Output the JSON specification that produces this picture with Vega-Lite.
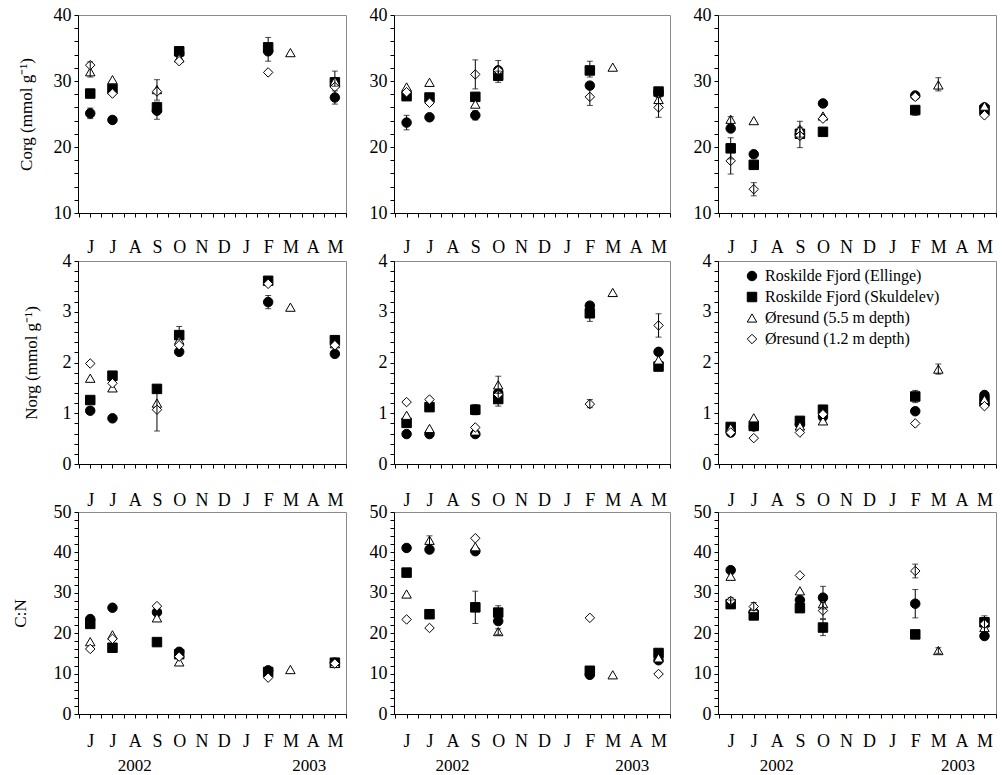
{
"$schema":"https://vega.github.io/schema/vega-lite/v6.json",
"padding":{"left":10,"top":5,"right":0,"bottom":0},
"autosize":{"type":"pad"},
"datasets":{"d":[
{"p":"Cl","s":"E","m":0,"v":25.1,"lo":24.3,"hi":25.9},{"p":"Cl","s":"E","m":1,"v":24.1},{"p":"Cl","s":"E","m":3,"v":25.5,"lo":24.2,"hi":26.8},{"p":"Cl","s":"E","m":4,"v":34.2},{"p":"Cl","s":"E","m":8,"v":34.5,"lo":33.0,"hi":35.5},{"p":"Cl","s":"E","m":11,"v":27.5,"lo":26.5,"hi":28.5},
{"p":"Cr","s":"E","m":0,"v":23.7,"lo":22.6,"hi":24.8},{"p":"Cr","s":"E","m":1,"v":24.5},{"p":"Cr","s":"E","m":3,"v":24.8,"lo":24.1,"hi":25.5},{"p":"Cr","s":"E","m":4,"v":31.6,"lo":30.1,"hi":33.1},{"p":"Cr","s":"E","m":8,"v":29.3},{"p":"Cr","s":"E","m":11,"v":28.3},
{"p":"Ct","s":"E","m":0,"v":22.8},{"p":"Ct","s":"E","m":1,"v":18.9},{"p":"Ct","s":"E","m":3,"v":21.9},{"p":"Ct","s":"E","m":4,"v":26.6,"lo":26.0,"hi":27.2},{"p":"Ct","s":"E","m":8,"v":27.8},{"p":"Ct","s":"E","m":11,"v":26.0},
{"p":"Nl","s":"E","m":0,"v":1.05},{"p":"Nl","s":"E","m":1,"v":0.9},{"p":"Nl","s":"E","m":4,"v":2.21},{"p":"Nl","s":"E","m":8,"v":3.19,"lo":3.06,"hi":3.32},{"p":"Nl","s":"E","m":11,"v":2.17},
{"p":"Nr","s":"E","m":0,"v":0.59},{"p":"Nr","s":"E","m":1,"v":0.59},{"p":"Nr","s":"E","m":3,"v":0.59},{"p":"Nr","s":"E","m":4,"v":1.4},{"p":"Nr","s":"E","m":8,"v":3.12},{"p":"Nr","s":"E","m":11,"v":2.21},
{"p":"Nt","s":"E","m":0,"v":0.62},{"p":"Nt","s":"E","m":1,"v":0.74},{"p":"Nt","s":"E","m":3,"v":0.78},{"p":"Nt","s":"E","m":4,"v":0.93},{"p":"Nt","s":"E","m":8,"v":1.04},{"p":"Nt","s":"E","m":11,"v":1.36},
{"p":"Rl","s":"E","m":0,"v":23.5},{"p":"Rl","s":"E","m":1,"v":26.3},{"p":"Rl","s":"E","m":3,"v":25.2},{"p":"Rl","s":"E","m":4,"v":15.4},{"p":"Rl","s":"E","m":8,"v":10.8},{"p":"Rl","s":"E","m":11,"v":12.7},
{"p":"Rr","s":"E","m":0,"v":41.1},{"p":"Rr","s":"E","m":1,"v":40.7},{"p":"Rr","s":"E","m":3,"v":40.3},{"p":"Rr","s":"E","m":4,"v":23.0},{"p":"Rr","s":"E","m":8,"v":9.7},{"p":"Rr","s":"E","m":11,"v":13.3},
{"p":"Rt","s":"E","m":0,"v":35.6},{"p":"Rt","s":"E","m":1,"v":25.2},{"p":"Rt","s":"E","m":3,"v":28.2},{"p":"Rt","s":"E","m":4,"v":28.8,"lo":26.0,"hi":31.6},{"p":"Rt","s":"E","m":8,"v":27.3,"lo":23.8,"hi":30.8},{"p":"Rt","s":"E","m":11,"v":19.3},
{"p":"Cl","s":"S","m":0,"v":28.1},{"p":"Cl","s":"S","m":1,"v":28.8},{"p":"Cl","s":"S","m":3,"v":26.0},{"p":"Cl","s":"S","m":4,"v":34.5,"lo":33.9,"hi":34.9},{"p":"Cl","s":"S","m":8,"v":35.1,"lo":34.3,"hi":36.6},{"p":"Cl","s":"S","m":11,"v":29.8},
{"p":"Cr","s":"S","m":0,"v":27.7},{"p":"Cr","s":"S","m":1,"v":27.5},{"p":"Cr","s":"S","m":3,"v":27.6},{"p":"Cr","s":"S","m":4,"v":30.8,"lo":29.8,"hi":31.5},{"p":"Cr","s":"S","m":8,"v":31.6,"lo":30.6,"hi":33.0},{"p":"Cr","s":"S","m":11,"v":28.4},
{"p":"Ct","s":"S","m":0,"v":19.8,"lo":18.2,"hi":21.4},{"p":"Ct","s":"S","m":1,"v":17.3},{"p":"Ct","s":"S","m":3,"v":22.0},{"p":"Ct","s":"S","m":4,"v":22.3},{"p":"Ct","s":"S","m":8,"v":25.6,"lo":24.8,"hi":26.0},{"p":"Ct","s":"S","m":11,"v":25.6},
{"p":"Nl","s":"S","m":0,"v":1.26},{"p":"Nl","s":"S","m":1,"v":1.74},{"p":"Nl","s":"S","m":3,"v":1.48},{"p":"Nl","s":"S","m":4,"v":2.54,"lo":2.45,"hi":2.71},{"p":"Nl","s":"S","m":8,"v":3.61},{"p":"Nl","s":"S","m":11,"v":2.44},
{"p":"Nr","s":"S","m":0,"v":0.81},{"p":"Nr","s":"S","m":1,"v":1.12},{"p":"Nr","s":"S","m":3,"v":1.07,"lo":0.97,"hi":1.17},{"p":"Nr","s":"S","m":4,"v":1.28,"lo":1.14,"hi":1.42},{"p":"Nr","s":"S","m":8,"v":2.97,"lo":2.81,"hi":3.13},{"p":"Nr","s":"S","m":11,"v":1.92},
{"p":"Nt","s":"S","m":0,"v":0.73},{"p":"Nt","s":"S","m":1,"v":0.75},{"p":"Nt","s":"S","m":3,"v":0.85},{"p":"Nt","s":"S","m":4,"v":1.07},{"p":"Nt","s":"S","m":8,"v":1.33,"lo":1.21,"hi":1.45},{"p":"Nt","s":"S","m":11,"v":1.24},
{"p":"Rl","s":"S","m":0,"v":22.3},{"p":"Rl","s":"S","m":1,"v":16.4},{"p":"Rl","s":"S","m":3,"v":17.8},{"p":"Rl","s":"S","m":4,"v":14.8},{"p":"Rl","s":"S","m":8,"v":10.4},{"p":"Rl","s":"S","m":11,"v":12.7},
{"p":"Rr","s":"S","m":0,"v":35.0},{"p":"Rr","s":"S","m":1,"v":24.7},{"p":"Rr","s":"S","m":3,"v":26.4,"lo":22.4,"hi":30.4},{"p":"Rr","s":"S","m":4,"v":25.1,"lo":23.4,"hi":26.8},{"p":"Rr","s":"S","m":8,"v":10.7},{"p":"Rr","s":"S","m":11,"v":15.1},
{"p":"Rt","s":"S","m":0,"v":27.2,"lo":26.2,"hi":28.2},{"p":"Rt","s":"S","m":1,"v":24.4},{"p":"Rt","s":"S","m":3,"v":26.2},{"p":"Rt","s":"S","m":4,"v":21.4,"lo":19.4,"hi":23.4},{"p":"Rt","s":"S","m":8,"v":19.7,"lo":18.7,"hi":20.7},{"p":"Rt","s":"S","m":11,"v":22.7},
{"p":"Cl","s":"T","m":0,"v":31.4,"lo":30.6,"hi":32.9},{"p":"Cl","s":"T","m":1,"v":30.2},{"p":"Cl","s":"T","m":3,"v":28.7},{"p":"Cl","s":"T","m":4,"v":33.5},{"p":"Cl","s":"T","m":9,"v":34.3},{"p":"Cl","s":"T","m":11,"v":30.0,"lo":29.2,"hi":31.5},
{"p":"Cr","s":"T","m":0,"v":29.1},{"p":"Cr","s":"T","m":1,"v":29.8},{"p":"Cr","s":"T","m":3,"v":26.5},{"p":"Cr","s":"T","m":4,"v":31.8},{"p":"Cr","s":"T","m":9,"v":32.1},{"p":"Cr","s":"T","m":11,"v":27.2},
{"p":"Ct","s":"T","m":0,"v":24.2,"lo":23.4,"hi":24.6},{"p":"Ct","s":"T","m":1,"v":24.0},{"p":"Ct","s":"T","m":3,"v":22.7,"lo":21.5,"hi":23.9},{"p":"Ct","s":"T","m":4,"v":24.7},{"p":"Ct","s":"T","m":9,"v":29.4,"lo":28.5,"hi":30.5},{"p":"Ct","s":"T","m":11,"v":26.2},
{"p":"Nl","s":"T","m":0,"v":1.69},{"p":"Nl","s":"T","m":1,"v":1.5},{"p":"Nl","s":"T","m":3,"v":1.2},{"p":"Nl","s":"T","m":4,"v":2.44},{"p":"Nl","s":"T","m":9,"v":3.09},{"p":"Nl","s":"T","m":11,"v":2.37},
{"p":"Nr","s":"T","m":0,"v":0.96},{"p":"Nr","s":"T","m":1,"v":0.7},{"p":"Nr","s":"T","m":3,"v":0.65},{"p":"Nr","s":"T","m":4,"v":1.56,"lo":1.39,"hi":1.73},{"p":"Nr","s":"T","m":9,"v":3.38},{"p":"Nr","s":"T","m":11,"v":2.05},
{"p":"Nt","s":"T","m":0,"v":0.71},{"p":"Nt","s":"T","m":1,"v":0.91},{"p":"Nt","s":"T","m":3,"v":0.75},{"p":"Nt","s":"T","m":4,"v":0.85},{"p":"Nt","s":"T","m":9,"v":1.87,"lo":1.77,"hi":1.97},{"p":"Nt","s":"T","m":11,"v":1.27},
{"p":"Rl","s":"T","m":0,"v":17.9},{"p":"Rl","s":"T","m":1,"v":19.6},{"p":"Rl","s":"T","m":3,"v":23.8},{"p":"Rl","s":"T","m":4,"v":12.9},{"p":"Rl","s":"T","m":9,"v":11.0},{"p":"Rl","s":"T","m":11,"v":12.5},
{"p":"Rr","s":"T","m":0,"v":29.7},{"p":"Rr","s":"T","m":1,"v":43.0,"lo":41.9,"hi":44.1},{"p":"Rr","s":"T","m":3,"v":41.4},{"p":"Rr","s":"T","m":4,"v":20.4,"lo":19.7,"hi":21.1},{"p":"Rr","s":"T","m":9,"v":9.7},{"p":"Rr","s":"T","m":11,"v":13.9},
{"p":"Rt","s":"T","m":0,"v":34.1},{"p":"Rt","s":"T","m":1,"v":26.1},{"p":"Rt","s":"T","m":3,"v":30.5},{"p":"Rt","s":"T","m":4,"v":27.3},{"p":"Rt","s":"T","m":9,"v":15.7,"lo":15.0,"hi":16.4},{"p":"Rt","s":"T","m":11,"v":21.4},
{"p":"Cl","s":"D","m":0,"v":32.4},{"p":"Cl","s":"D","m":1,"v":28.1},{"p":"Cl","s":"D","m":3,"v":28.4,"lo":27.1,"hi":30.2},{"p":"Cl","s":"D","m":4,"v":33.0},{"p":"Cl","s":"D","m":8,"v":31.3},{"p":"Cl","s":"D","m":11,"v":29.1},
{"p":"Cr","s":"D","m":0,"v":28.3},{"p":"Cr","s":"D","m":1,"v":26.7},{"p":"Cr","s":"D","m":3,"v":31.0,"lo":28.8,"hi":33.2},{"p":"Cr","s":"D","m":4,"v":31.6},{"p":"Cr","s":"D","m":8,"v":27.6,"lo":26.3,"hi":28.9},{"p":"Cr","s":"D","m":11,"v":26.0,"lo":24.5,"hi":27.5},
{"p":"Ct","s":"D","m":0,"v":17.9,"lo":15.9,"hi":19.9},{"p":"Ct","s":"D","m":1,"v":13.6,"lo":12.6,"hi":14.6},{"p":"Ct","s":"D","m":3,"v":21.7,"lo":19.9,"hi":23.0},{"p":"Ct","s":"D","m":4,"v":24.3},{"p":"Ct","s":"D","m":8,"v":27.6},{"p":"Ct","s":"D","m":11,"v":24.8},
{"p":"Nl","s":"D","m":0,"v":1.98},{"p":"Nl","s":"D","m":1,"v":1.59},{"p":"Nl","s":"D","m":3,"v":1.07,"lo":0.65,"hi":1.4},{"p":"Nl","s":"D","m":4,"v":2.34},{"p":"Nl","s":"D","m":8,"v":3.55},{"p":"Nl","s":"D","m":11,"v":2.34},
{"p":"Nr","s":"D","m":0,"v":1.22},{"p":"Nr","s":"D","m":1,"v":1.27},{"p":"Nr","s":"D","m":3,"v":0.72},{"p":"Nr","s":"D","m":4,"v":1.37},{"p":"Nr","s":"D","m":8,"v":1.18,"lo":1.11,"hi":1.27},{"p":"Nr","s":"D","m":11,"v":2.73,"lo":2.5,"hi":2.96},
{"p":"Nt","s":"D","m":0,"v":0.62},{"p":"Nt","s":"D","m":1,"v":0.51},{"p":"Nt","s":"D","m":3,"v":0.62},{"p":"Nt","s":"D","m":4,"v":0.98},{"p":"Nt","s":"D","m":8,"v":0.8},{"p":"Nt","s":"D","m":11,"v":1.14},
{"p":"Rl","s":"D","m":0,"v":16.1},{"p":"Rl","s":"D","m":1,"v":18.6},{"p":"Rl","s":"D","m":3,"v":26.7},{"p":"Rl","s":"D","m":4,"v":14.2},{"p":"Rl","s":"D","m":8,"v":9.0},{"p":"Rl","s":"D","m":11,"v":12.5},
{"p":"Rr","s":"D","m":0,"v":23.4},{"p":"Rr","s":"D","m":1,"v":21.3},{"p":"Rr","s":"D","m":3,"v":43.5},{"p":"Rr","s":"D","m":8,"v":23.8},{"p":"Rr","s":"D","m":11,"v":9.9},
{"p":"Rt","s":"D","m":0,"v":28.0,"lo":27.2,"hi":28.8},{"p":"Rt","s":"D","m":1,"v":26.6,"lo":25.6,"hi":27.6},{"p":"Rt","s":"D","m":3,"v":34.3},{"p":"Rt","s":"D","m":4,"v":25.6,"lo":23.6,"hi":27.6},{"p":"Rt","s":"D","m":8,"v":35.4,"lo":33.7,"hi":37.1},{"p":"Rt","s":"D","m":11,"v":22.3,"lo":20.3,"hi":24.3}
]},
"columns":3,
"bounds":"flush",
"spacing":{"row":48,"column":48},
"resolve":{"scale":{"shape":"independent","fill":"independent","stroke":"independent"},"legend":{"shape":"independent","fill":"independent","stroke":"independent"}},
"concat":[
{"width":268,"height":198,"resolve":{"axis":{"y":"independent"}},
 "encoding":{"x":{"field":"m","type":"quantitative","scale":{"domain":[-0.55,11.5],"nice":false,"zero":false},"axis":{"values":[-0.5,0,0.5,1,1.5,2,2.5,3,3.5,4,4.5,5,5.5,6,6.5,7,7.5,8,8.5,9,9.5,10,10.5,11,11.5],"labelExpr":"datum.value % 1 === 0 ? ['J','J','A','S','O','N','D','J','F','M','A','M'][datum.value] : ''","labelPadding":21,"labelOverlap":false,"labelFlush":false,"title":null}}},
 "layer":[
  {"data":{"name":"d"},"transform":[{"filter":"datum.p==='Cl'"}],"mark":{"type":"point","size":90,"stroke":"black","strokeWidth":1,"opacity":1},
   "encoding":{"y":{"field":"v","type":"quantitative","scale":{"domain":[10,40],"nice":false,"zero":false},"axis":{"values":[10,12,14,16,18,20,22,24,26,28,30,32,34,36,38,40],"labelExpr":"datum.value % 10 === 0 ? datum.label : ''","labelOverlap":false,"title":"Corg (mmol g⁻¹)","titlePadding":18}},
    "shape":{"field":"s","type":"nominal","scale":{"domain":["E","S","T","D"],"range":["circle","square","triangle-up","diamond"]},"legend":null},
    "fill":{"field":"s","type":"nominal","scale":{"domain":["E","S","T","D"],"range":["black","black","white","white"]},"legend":null}}},
  {"data":{"name":"d"},"transform":[{"filter":"datum.p==='Cl' && isValid(datum.lo)"}],"mark":{"type":"rule","color":"black","strokeWidth":1},"encoding":{"y":{"field":"lo","type":"quantitative","axis":null},"y2":{"field":"hi"}}},
  {"data":{"name":"d"},"transform":[{"filter":"datum.p==='Cl' && isValid(datum.lo)"},{"fold":["lo","hi"],"as":["k","e"]}],"mark":{"type":"tick","orient":"horizontal","size":6,"thickness":1,"color":"black"},"encoding":{"y":{"field":"e","type":"quantitative","axis":null}}},
  {"data":{"values":[{"t":"leaf"}]},"mark":{"type":"text","align":"right","baseline":"alphabetic","dx":-8,"dy":-12,"fontSize":20},"encoding":{"x":{"datum":11.5},"y":{"datum":10,"axis":null},"text":{"field":"t"}}}
 ]},
{"width":276,"height":198,"resolve":{"axis":{"y":"independent"}},
 "encoding":{"x":{"field":"m","type":"quantitative","scale":{"domain":[-0.55,11.5],"nice":false,"zero":false},"axis":{"values":[-0.5,0,0.5,1,1.5,2,2.5,3,3.5,4,4.5,5,5.5,6,6.5,7,7.5,8,8.5,9,9.5,10,10.5,11,11.5],"labelExpr":"datum.value % 1 === 0 ? ['J','J','A','S','O','N','D','J','F','M','A','M'][datum.value] : ''","labelPadding":21,"labelOverlap":false,"labelFlush":false,"title":null}}},
 "layer":[
  {"data":{"name":"d"},"transform":[{"filter":"datum.p==='Cr'"}],"mark":{"type":"point","size":90,"stroke":"black","strokeWidth":1,"opacity":1},
   "encoding":{"y":{"field":"v","type":"quantitative","scale":{"domain":[10,40],"nice":false,"zero":false},"axis":{"values":[10,12,14,16,18,20,22,24,26,28,30,32,34,36,38,40],"labelExpr":"datum.value % 10 === 0 ? datum.label : ''","labelOverlap":false,"title":null}},
    "shape":{"field":"s","type":"nominal","scale":{"domain":["E","S","T","D"],"range":["circle","square","triangle-up","diamond"]},"legend":null},
    "fill":{"field":"s","type":"nominal","scale":{"domain":["E","S","T","D"],"range":["black","black","white","white"]},"legend":null}}},
  {"data":{"name":"d"},"transform":[{"filter":"datum.p==='Cr' && isValid(datum.lo)"}],"mark":{"type":"rule","color":"black","strokeWidth":1},"encoding":{"y":{"field":"lo","type":"quantitative","axis":null},"y2":{"field":"hi"}}},
  {"data":{"name":"d"},"transform":[{"filter":"datum.p==='Cr' && isValid(datum.lo)"},{"fold":["lo","hi"],"as":["k","e"]}],"mark":{"type":"tick","orient":"horizontal","size":6,"thickness":1,"color":"black"},"encoding":{"y":{"field":"e","type":"quantitative","axis":null}}},
  {"data":{"values":[{"t":"rhizome"}]},"mark":{"type":"text","align":"right","baseline":"alphabetic","dx":-7,"dy":-12,"fontSize":20},"encoding":{"x":{"datum":11.5},"y":{"datum":10,"axis":null},"text":{"field":"t"}}}
 ]},
{"width":278,"height":198,"resolve":{"axis":{"y":"independent"}},
 "encoding":{"x":{"field":"m","type":"quantitative","scale":{"domain":[-0.55,11.5],"nice":false,"zero":false},"axis":{"values":[-0.5,0,0.5,1,1.5,2,2.5,3,3.5,4,4.5,5,5.5,6,6.5,7,7.5,8,8.5,9,9.5,10,10.5,11,11.5],"labelExpr":"datum.value % 1 === 0 ? ['J','J','A','S','O','N','D','J','F','M','A','M'][datum.value] : ''","labelPadding":21,"labelOverlap":false,"labelFlush":false,"title":null}}},
 "layer":[
  {"data":{"name":"d"},"transform":[{"filter":"datum.p==='Ct'"}],"mark":{"type":"point","size":90,"stroke":"black","strokeWidth":1,"opacity":1},
   "encoding":{"y":{"field":"v","type":"quantitative","scale":{"domain":[10,40],"nice":false,"zero":false},"axis":{"values":[10,12,14,16,18,20,22,24,26,28,30,32,34,36,38,40],"labelExpr":"datum.value % 10 === 0 ? datum.label : ''","labelOverlap":false,"title":null}},
    "shape":{"field":"s","type":"nominal","scale":{"domain":["E","S","T","D"],"range":["circle","square","triangle-up","diamond"]},"legend":null},
    "fill":{"field":"s","type":"nominal","scale":{"domain":["E","S","T","D"],"range":["black","black","white","white"]},"legend":null}}},
  {"data":{"name":"d"},"transform":[{"filter":"datum.p==='Ct' && isValid(datum.lo)"}],"mark":{"type":"rule","color":"black","strokeWidth":1},"encoding":{"y":{"field":"lo","type":"quantitative","axis":null},"y2":{"field":"hi"}}},
  {"data":{"name":"d"},"transform":[{"filter":"datum.p==='Ct' && isValid(datum.lo)"},{"fold":["lo","hi"],"as":["k","e"]}],"mark":{"type":"tick","orient":"horizontal","size":6,"thickness":1,"color":"black"},"encoding":{"y":{"field":"e","type":"quantitative","axis":null}}},
  {"data":{"values":[{"t":"root"}]},"mark":{"type":"text","align":"right","baseline":"alphabetic","dx":-8,"dy":-13,"fontSize":20},"encoding":{"x":{"datum":11.5},"y":{"datum":10,"axis":null},"text":{"field":"t"}}}
 ]},
{"width":268,"height":203,"resolve":{"axis":{"y":"independent"}},
 "encoding":{"x":{"field":"m","type":"quantitative","scale":{"domain":[-0.55,11.5],"nice":false,"zero":false},"axis":{"values":[-0.5,0,0.5,1,1.5,2,2.5,3,3.5,4,4.5,5,5.5,6,6.5,7,7.5,8,8.5,9,9.5,10,10.5,11,11.5],"labelExpr":"datum.value % 1 === 0 ? ['J','J','A','S','O','N','D','J','F','M','A','M'][datum.value] : ''","labelPadding":23,"labelOverlap":false,"labelFlush":false,"title":null}}},
 "layer":[
  {"data":{"name":"d"},"transform":[{"filter":"datum.p==='Nl'"}],"mark":{"type":"point","size":90,"stroke":"black","strokeWidth":1,"opacity":1},
   "encoding":{"y":{"field":"v","type":"quantitative","scale":{"domain":[0,4],"nice":false,"zero":false},"axis":{"values":[0,0.2,0.4,0.6,0.8,1,1.2,1.4,1.6,1.8,2,2.2,2.4,2.6,2.8,3,3.2,3.4,3.6,3.8,4],"labelExpr":"datum.value % 1 === 0 ? format(datum.value, 'd') : ''","labelOverlap":false,"title":"Norg (mmol g⁻¹)","titlePadding":22}},
    "shape":{"field":"s","type":"nominal","scale":{"domain":["E","S","T","D"],"range":["circle","square","triangle-up","diamond"]},"legend":null},
    "fill":{"field":"s","type":"nominal","scale":{"domain":["E","S","T","D"],"range":["black","black","white","white"]},"legend":null}}},
  {"data":{"name":"d"},"transform":[{"filter":"datum.p==='Nl' && isValid(datum.lo)"}],"mark":{"type":"rule","color":"black","strokeWidth":1},"encoding":{"y":{"field":"lo","type":"quantitative","axis":null},"y2":{"field":"hi"}}},
  {"data":{"name":"d"},"transform":[{"filter":"datum.p==='Nl' && isValid(datum.lo)"},{"fold":["lo","hi"],"as":["k","e"]}],"mark":{"type":"tick","orient":"horizontal","size":6,"thickness":1,"color":"black"},"encoding":{"y":{"field":"e","type":"quantitative","axis":null}}},
  {"data":{"values":[{"t":"leaf"}]},"mark":{"type":"text","align":"right","baseline":"alphabetic","dx":-6,"dy":-13,"fontSize":20},"encoding":{"x":{"datum":11.5},"y":{"datum":0,"axis":null},"text":{"field":"t"}}}
 ]},
{"width":276,"height":203,"resolve":{"axis":{"y":"independent"}},
 "encoding":{"x":{"field":"m","type":"quantitative","scale":{"domain":[-0.55,11.5],"nice":false,"zero":false},"axis":{"values":[-0.5,0,0.5,1,1.5,2,2.5,3,3.5,4,4.5,5,5.5,6,6.5,7,7.5,8,8.5,9,9.5,10,10.5,11,11.5],"labelExpr":"datum.value % 1 === 0 ? ['J','J','A','S','O','N','D','J','F','M','A','M'][datum.value] : ''","labelPadding":23,"labelOverlap":false,"labelFlush":false,"title":null}}},
 "layer":[
  {"data":{"name":"d"},"transform":[{"filter":"datum.p==='Nr'"}],"mark":{"type":"point","size":90,"stroke":"black","strokeWidth":1,"opacity":1},
   "encoding":{"y":{"field":"v","type":"quantitative","scale":{"domain":[0,4],"nice":false,"zero":false},"axis":{"values":[0,0.2,0.4,0.6,0.8,1,1.2,1.4,1.6,1.8,2,2.2,2.4,2.6,2.8,3,3.2,3.4,3.6,3.8,4],"labelExpr":"datum.value % 1 === 0 ? format(datum.value, 'd') : ''","labelOverlap":false,"title":null}},
    "shape":{"field":"s","type":"nominal","scale":{"domain":["E","S","T","D"],"range":["circle","square","triangle-up","diamond"]},"legend":null},
    "fill":{"field":"s","type":"nominal","scale":{"domain":["E","S","T","D"],"range":["black","black","white","white"]},"legend":null}}},
  {"data":{"name":"d"},"transform":[{"filter":"datum.p==='Nr' && isValid(datum.lo)"}],"mark":{"type":"rule","color":"black","strokeWidth":1},"encoding":{"y":{"field":"lo","type":"quantitative","axis":null},"y2":{"field":"hi"}}},
  {"data":{"name":"d"},"transform":[{"filter":"datum.p==='Nr' && isValid(datum.lo)"},{"fold":["lo","hi"],"as":["k","e"]}],"mark":{"type":"tick","orient":"horizontal","size":6,"thickness":1,"color":"black"},"encoding":{"y":{"field":"e","type":"quantitative","axis":null}}},
  {"data":{"values":[{"t":"rhizome"}]},"mark":{"type":"text","align":"right","baseline":"alphabetic","dx":-7,"dy":-13,"fontSize":20},"encoding":{"x":{"datum":11.5},"y":{"datum":0,"axis":null},"text":{"field":"t"}}}
 ]},
{"width":278,"height":203,"resolve":{"axis":{"y":"independent"}},
 "encoding":{"x":{"field":"m","type":"quantitative","scale":{"domain":[-0.55,11.5],"nice":false,"zero":false},"axis":{"values":[-0.5,0,0.5,1,1.5,2,2.5,3,3.5,4,4.5,5,5.5,6,6.5,7,7.5,8,8.5,9,9.5,10,10.5,11,11.5],"labelExpr":"datum.value % 1 === 0 ? ['J','J','A','S','O','N','D','J','F','M','A','M'][datum.value] : ''","labelPadding":23,"labelOverlap":false,"labelFlush":false,"title":null}}},
 "layer":[
  {"data":{"name":"d"},"transform":[{"filter":"datum.p==='Nt'"}],"mark":{"type":"point","size":90,"strokeWidth":1,"opacity":1},
   "encoding":{"y":{"field":"v","type":"quantitative","scale":{"domain":[0,4],"nice":false,"zero":false},"axis":{"values":[0,0.2,0.4,0.6,0.8,1,1.2,1.4,1.6,1.8,2,2.2,2.4,2.6,2.8,3,3.2,3.4,3.6,3.8,4],"labelExpr":"datum.value % 1 === 0 ? format(datum.value, 'd') : ''","labelOverlap":false,"title":null}},
    "shape":{"field":"s","type":"nominal","scale":{"domain":["E","S","T","D"],"range":["circle","square","triangle-up","diamond"]},"legend":{"title":null,"orient":"none","legendX":26,"legendY":7,"padding":0,"rowPadding":5,"labelOffset":5,"labelLimit":400,"labelExpr":"{'E':'Roskilde Fjord (Ellinge)','S':'Roskilde Fjord (Skuldelev)','T':'Øresund (5.5 m depth)','D':'Øresund (1.2 m depth)'}[datum.label]"}},
    "fill":{"field":"s","type":"nominal","scale":{"domain":["E","S","T","D"],"range":["black","black","white","white"]},"legend":{"title":null,"orient":"none","legendX":26,"legendY":7,"padding":0,"rowPadding":5,"labelOffset":5,"labelLimit":400,"labelExpr":"{'E':'Roskilde Fjord (Ellinge)','S':'Roskilde Fjord (Skuldelev)','T':'Øresund (5.5 m depth)','D':'Øresund (1.2 m depth)'}[datum.label]"}},
    "stroke":{"field":"s","type":"nominal","scale":{"domain":["E","S","T","D"],"range":["black","black","black","black"]},"legend":{"title":null,"orient":"none","legendX":26,"legendY":7,"padding":0,"rowPadding":5,"labelOffset":5,"labelLimit":400,"labelExpr":"{'E':'Roskilde Fjord (Ellinge)','S':'Roskilde Fjord (Skuldelev)','T':'Øresund (5.5 m depth)','D':'Øresund (1.2 m depth)'}[datum.label]"}}}},
  {"data":{"name":"d"},"transform":[{"filter":"datum.p==='Nt' && isValid(datum.lo)"}],"mark":{"type":"rule","color":"black","strokeWidth":1},"encoding":{"y":{"field":"lo","type":"quantitative","axis":null},"y2":{"field":"hi"}}},
  {"data":{"name":"d"},"transform":[{"filter":"datum.p==='Nt' && isValid(datum.lo)"},{"fold":["lo","hi"],"as":["k","e"]}],"mark":{"type":"tick","orient":"horizontal","size":6,"thickness":1,"color":"black"},"encoding":{"y":{"field":"e","type":"quantitative","axis":null}}},
  {"data":{"values":[{"t":"root"}]},"mark":{"type":"text","align":"right","baseline":"alphabetic","dx":-8,"dy":-13,"fontSize":20},"encoding":{"x":{"datum":11.5},"y":{"datum":0,"axis":null},"text":{"field":"t"}}}
 ]},
{"width":268,"height":202,"resolve":{"axis":{"y":"independent"}},
 "encoding":{"x":{"field":"m","type":"quantitative","scale":{"domain":[-0.55,11.5],"nice":false,"zero":false},"axis":{"values":[-0.5,0,0.5,1,1.5,2,2.5,3,3.5,4,4.5,5,5.5,6,6.5,7,7.5,8,8.5,9,9.5,10,10.5,11,11.5],"labelExpr":"datum.value % 1 === 0 ? ['J','J','A','S','O','N','D','J','F','M','A','M'][datum.value] : ''","labelPadding":14,"labelOverlap":false,"labelFlush":false,"title":null}}},
 "layer":[
  {"data":{"name":"d"},"transform":[{"filter":"datum.p==='Rl'"}],"mark":{"type":"point","size":90,"stroke":"black","strokeWidth":1,"opacity":1},
   "encoding":{"y":{"field":"v","type":"quantitative","scale":{"domain":[0,50],"nice":false,"zero":false},"axis":{"values":[0,2,4,6,8,10,12,14,16,18,20,22,24,26,28,30,32,34,36,38,40,42,44,46,48,50],"labelExpr":"datum.value % 10 === 0 ? datum.label : ''","labelOverlap":false,"title":"C:N","titlePadding":24}},
    "shape":{"field":"s","type":"nominal","scale":{"domain":["E","S","T","D"],"range":["circle","square","triangle-up","diamond"]},"legend":null},
    "fill":{"field":"s","type":"nominal","scale":{"domain":["E","S","T","D"],"range":["black","black","white","white"]},"legend":null}}},
  {"data":{"name":"d"},"transform":[{"filter":"datum.p==='Rl' && isValid(datum.lo)"}],"mark":{"type":"rule","color":"black","strokeWidth":1},"encoding":{"y":{"field":"lo","type":"quantitative","axis":null},"y2":{"field":"hi"}}},
  {"data":{"name":"d"},"transform":[{"filter":"datum.p==='Rl' && isValid(datum.lo)"},{"fold":["lo","hi"],"as":["k","e"]}],"mark":{"type":"tick","orient":"horizontal","size":6,"thickness":1,"color":"black"},"encoding":{"y":{"field":"e","type":"quantitative","axis":null}}},
  {"data":{"values":[{"t":"leaf"}]},"mark":{"type":"text","align":"right","baseline":"alphabetic","dx":-6,"dy":-13,"fontSize":20},"encoding":{"x":{"datum":11.5},"y":{"datum":0,"axis":null},"text":{"field":"t"}}},
  {"data":{"values":[{"yr":"2002","m":2.0},{"yr":"2003","m":9.85}]},"mark":{"type":"text","baseline":"middle","dy":52,"fontSize":17},"encoding":{"y":{"datum":0,"axis":null},"text":{"field":"yr"}}}
 ]},
{"width":276,"height":202,"resolve":{"axis":{"y":"independent"}},
 "encoding":{"x":{"field":"m","type":"quantitative","scale":{"domain":[-0.55,11.5],"nice":false,"zero":false},"axis":{"values":[-0.5,0,0.5,1,1.5,2,2.5,3,3.5,4,4.5,5,5.5,6,6.5,7,7.5,8,8.5,9,9.5,10,10.5,11,11.5],"labelExpr":"datum.value % 1 === 0 ? ['J','J','A','S','O','N','D','J','F','M','A','M'][datum.value] : ''","labelPadding":14,"labelOverlap":false,"labelFlush":false,"title":null}}},
 "layer":[
  {"data":{"name":"d"},"transform":[{"filter":"datum.p==='Rr'"}],"mark":{"type":"point","size":90,"stroke":"black","strokeWidth":1,"opacity":1},
   "encoding":{"y":{"field":"v","type":"quantitative","scale":{"domain":[0,50],"nice":false,"zero":false},"axis":{"values":[0,2,4,6,8,10,12,14,16,18,20,22,24,26,28,30,32,34,36,38,40,42,44,46,48,50],"labelExpr":"datum.value % 10 === 0 ? datum.label : ''","labelOverlap":false,"title":null}},
    "shape":{"field":"s","type":"nominal","scale":{"domain":["E","S","T","D"],"range":["circle","square","triangle-up","diamond"]},"legend":null},
    "fill":{"field":"s","type":"nominal","scale":{"domain":["E","S","T","D"],"range":["black","black","white","white"]},"legend":null}}},
  {"data":{"name":"d"},"transform":[{"filter":"datum.p==='Rr' && isValid(datum.lo)"}],"mark":{"type":"rule","color":"black","strokeWidth":1},"encoding":{"y":{"field":"lo","type":"quantitative","axis":null},"y2":{"field":"hi"}}},
  {"data":{"name":"d"},"transform":[{"filter":"datum.p==='Rr' && isValid(datum.lo)"},{"fold":["lo","hi"],"as":["k","e"]}],"mark":{"type":"tick","orient":"horizontal","size":6,"thickness":1,"color":"black"},"encoding":{"y":{"field":"e","type":"quantitative","axis":null}}},
  {"data":{"values":[{"t":"rhizome"}]},"mark":{"type":"text","align":"right","baseline":"alphabetic","dx":-9,"dy":-16,"fontSize":20},"encoding":{"x":{"datum":11.5},"y":{"datum":0,"axis":null},"text":{"field":"t"}}},
  {"data":{"values":[{"yr":"2002","m":2.0},{"yr":"2003","m":9.85}]},"mark":{"type":"text","baseline":"middle","dy":52,"fontSize":17},"encoding":{"y":{"datum":0,"axis":null},"text":{"field":"yr"}}}
 ]},
{"width":278,"height":202,"resolve":{"axis":{"y":"independent"}},
 "encoding":{"x":{"field":"m","type":"quantitative","scale":{"domain":[-0.55,11.5],"nice":false,"zero":false},"axis":{"values":[-0.5,0,0.5,1,1.5,2,2.5,3,3.5,4,4.5,5,5.5,6,6.5,7,7.5,8,8.5,9,9.5,10,10.5,11,11.5],"labelExpr":"datum.value % 1 === 0 ? ['J','J','A','S','O','N','D','J','F','M','A','M'][datum.value] : ''","labelPadding":14,"labelOverlap":false,"labelFlush":false,"title":null}}},
 "layer":[
  {"data":{"name":"d"},"transform":[{"filter":"datum.p==='Rt'"}],"mark":{"type":"point","size":90,"stroke":"black","strokeWidth":1,"opacity":1},
   "encoding":{"y":{"field":"v","type":"quantitative","scale":{"domain":[0,50],"nice":false,"zero":false},"axis":{"values":[0,2,4,6,8,10,12,14,16,18,20,22,24,26,28,30,32,34,36,38,40,42,44,46,48,50],"labelExpr":"datum.value % 10 === 0 ? datum.label : ''","labelOverlap":false,"title":null}},
    "shape":{"field":"s","type":"nominal","scale":{"domain":["E","S","T","D"],"range":["circle","square","triangle-up","diamond"]},"legend":null},
    "fill":{"field":"s","type":"nominal","scale":{"domain":["E","S","T","D"],"range":["black","black","white","white"]},"legend":null}}},
  {"data":{"name":"d"},"transform":[{"filter":"datum.p==='Rt' && isValid(datum.lo)"}],"mark":{"type":"rule","color":"black","strokeWidth":1},"encoding":{"y":{"field":"lo","type":"quantitative","axis":null},"y2":{"field":"hi"}}},
  {"data":{"name":"d"},"transform":[{"filter":"datum.p==='Rt' && isValid(datum.lo)"},{"fold":["lo","hi"],"as":["k","e"]}],"mark":{"type":"tick","orient":"horizontal","size":6,"thickness":1,"color":"black"},"encoding":{"y":{"field":"e","type":"quantitative","axis":null}}},
  {"data":{"values":[{"t":"root"}]},"mark":{"type":"text","align":"right","baseline":"alphabetic","dx":-8,"dy":-13,"fontSize":20},"encoding":{"x":{"datum":11.5},"y":{"datum":0,"axis":null},"text":{"field":"t"}}},
  {"data":{"values":[{"yr":"2002","m":2.0},{"yr":"2003","m":9.85}]},"mark":{"type":"text","baseline":"middle","dy":52,"fontSize":17},"encoding":{"y":{"datum":0,"axis":null},"text":{"field":"yr"}}}
 ]}
],
"config":{
 "font":"Liberation Serif",
 "background":"white",
 "view":{"stroke":"#8a8a8a","strokeWidth":1},
 "axis":{"domainColor":"black","domainWidth":1,"tickColor":"black","tickWidth":1,"tickSize":4,"labelColor":"black","labelFontSize":18,"labelFont":"Liberation Serif","titleFont":"Liberation Serif","titleFontSize":17,"titleFontWeight":"normal","titleColor":"black","grid":false,"labelPadding":3},
 "legend":{"labelFont":"Liberation Serif","labelFontSize":16,"labelColor":"black","symbolStrokeColor":"black","symbolStrokeWidth":1,"symbolSize":90},
 "text":{"font":"Liberation Serif","color":"black"}
}
}
